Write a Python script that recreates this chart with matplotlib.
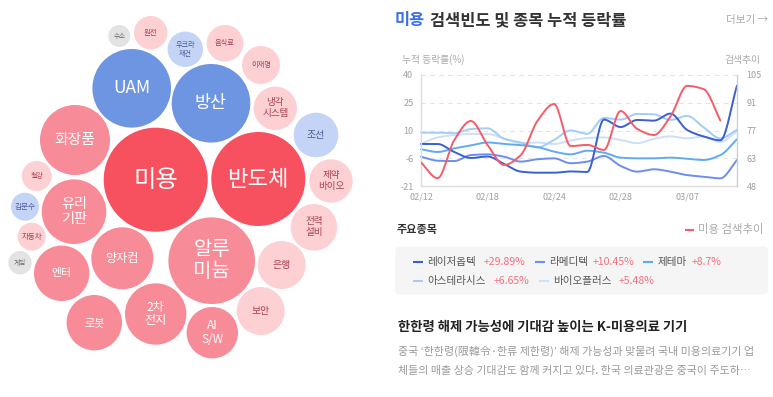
import numpy as np
import matplotlib
matplotlib.use('Agg')
import matplotlib.pyplot as plt
from matplotlib.patches import Circle, FancyBboxPatch

plt.rcParams['font.family'] = ['Noto Sans CJK KR', 'DejaVu Sans']

# ---------------- data ----------------
dates = ['02/12', '02/13', '02/14', '02/17', '02/18', '02/19', '02/20', '02/21',
         '02/24', '02/25', '02/26', '02/27', '02/28', '03/04', '03/05', '03/06',
         '03/07', '03/10', '03/11', '03/12']
tick_idx = [0, 4, 8, 12, 16]
left_tick_labels = ['-21', '-6', '10', '25', '40']
right_tick_labels = ['48', '63', '77', '91', '105']

laser = [2.1, 2.1, -2.3, -5.6, -4.8, -8.9, -13.1, -13.7, -13.7, -13.0, -13.3,
         15.5, 11.4, 15.3, 14.9, 18.8, 9.8, 6.2, 4.1, 34.2]
ramedi = [-4.9, -7.1, -7.3, -4.0, -3.6, -4.9, -7.6, -6.3, -5.8, -8.5, -7.6,
          -4.5, -10.0, -13.1, -11.8, -13.1, -15.0, -15.9, -16.8, -6.7]
jetema = [-0.8, -2.3, -0.3, 1.3, 2.9, 2.1, 1.5, 0.4, -2.1, -3.6, -1.6,
          -2.7, -5.4, -5.8, -5.8, -5.4, -6.0, -6.7, -4.0, 4.7]
asterasys = [8.3, 8.3, 8.0, 10.3, 10.7, 4.9, 2.9, 0.2, 4.3, 9.5, 7.7,
             16.4, 15.5, 18.6, 18.4, 15.3, 17.5, 11.2, 5.2, 9.9]
bioplus = [2.2, 5.7, 7.0, 7.6, 7.6, 5.1, 2.6, 2.9, 2.1, 4.0, 5.4,
           5.7, 4.3, 2.5, 4.9, 6.3, 5.2, 6.2, 3.2, 9.1]
search_trend = [60.1, 52.0, 71.6, 81.4, 69.1, 58.8, 63.9, 81.4, 90.1, 68.5,
                69.1, 66.5, 86.5, 77.3, 74.2, 83.7, 99.4, 97.7, 81.6]

stock_names = ['레이저옵텍', '라메디텍', '제테마', '아스테라시스', '바이오플러스']
stock_returns = ['+29.89%', '+10.45%', '+8.7%', '+6.65%', '+5.48%']

bubble_labels = ['미용', '반도체', 'UAM', '방산', '알루\n미늄', '화장품', '유리\n기판',
                 '양자컴', '2차\n전지', '엔터', '로봇', 'AI\nS/W', '은행', '보안',
                 '전력\n설비', '조선', '냉각\n시스템', '제약\n바이오', '이재명', '음식료',
                 '우크라\n재건', '원전', '철강', '김문수', '자동차', '게임', '수소']
bubble_sizes = [52, 47, 39.3, 39.3, 43.3, 35, 32.3, 31, 30.7, 27.7, 27.7, 25.7,
                24, 24, 23.3, 22.3, 21.7, 21.7, 19, 18.3, 17.7, 16.7, 15, 14, 14,
                11.7, 11]
bubble_groups = ['red', 'red', 'blue', 'blue', 'pink', 'pink', 'pink', 'pink', 'pink',
                 'pink', 'pink', 'pink', 'lpink', 'lpink', 'lpink', 'lblue', 'lpink',
                 'lpink', 'lpink', 'lpink', 'lblue', 'lpink', 'lpink', 'lblue', 'lpink',
                 'gray', 'gray']

# ---------------- layout / style ----------------
bubble_cx = [155.7, 258.3, 131.7, 211, 211.7, 75, 74, 122.3, 155.7, 61.7, 94.3, 212.3,
             281.7, 260.7, 314, 316, 275.3, 331, 261, 225, 185.3, 150.7, 36.7, 25,
             31.7, 20, 119.3]
bubble_cy = [179.7, 179, 88.3, 103.3, 260.7, 140, 211.7, 258.3, 314, 273.3, 322.7,
             332.7, 265, 311, 227.3, 135, 108.3, 181, 65, 43.3, 49.3, 32.7, 176,
             206.7, 236.7, 262.7, 36]
bubble_fs = [17.5, 16, 12.5, 12.5, 14.4, 10.7, 10.2, 8.7, 8.7, 7.8, 8.0, 8.5,
             7.1, 7.1, 6.9, 7.2, 6.9, 6.9, 5.2, 5.2, 5.1, 5.3, 5.0, 5.5, 5.4, 4.8, 4.7]
fill_col = {'red': '#f7515f', 'pink': '#f78b97', 'lpink': '#fdd1d4',
            'blue': '#6d95e2', 'lblue': '#c3d4f7', 'gray': '#e3e3e3'}
text_col = {'red': 'white', 'pink': 'white', 'lpink': '#a8404f',
            'blue': 'white', 'lblue': '#4a5b95', 'gray': '#666666'}

line_cols = ['#3a5fd0', '#6b8ff0', '#5fabf3', '#a3cdf6', '#cde0f7']
red_col = '#f55b69'

W, H = 773, 397
fig = plt.figure(figsize=(W / 100, H / 100), dpi=100)
fig.patch.set_facecolor('white')

bg = fig.add_axes([0, 0, 1, 1])
bg.set_xlim(0, W)
bg.set_ylim(H, 0)
bg.axis('off')

for lab, r, g, cx, cy, fs in zip(bubble_labels, bubble_sizes, bubble_groups,
                                 bubble_cx, bubble_cy, bubble_fs):
    bg.add_patch(Circle((cx, cy), r, fc=fill_col[g], ec='none'))
    ls = 1.08 if fs >= 8 else 1.25
    bg.text(cx, cy, lab, ha='center', va='center', fontsize=fs, color=text_col[g],
            linespacing=ls, multialignment='center')

# title
bg.text(395, 20, '미용', fontsize=11.8, fontweight='bold', color='#3a6fe6',
        ha='left', va='center')
bg.text(429.5, 20, '검색빈도 및 종목 누적 등락률', fontsize=11.8, fontweight='bold',
        color='#333333', ha='left', va='center')
bg.text(768, 20, '더보기 →', fontsize=7.6, color='#aaaaaa', ha='right', va='center')
bg.text(401.5, 60, '누적 등락률(%)', fontsize=7, color='#aaaaaa', ha='left', va='center')
bg.text(760, 60, '검색추이', fontsize=7, color='#aaaaaa', ha='right', va='center')

# legend section
bg.text(396.5, 230, '주요종목', fontsize=8, fontweight='bold', color='#333333',
        ha='left', va='center')
bg.plot([685, 694], [230, 230], color=red_col, lw=1.5, solid_capstyle='butt')
bg.text(698, 230, '미용 검색추이', fontsize=8.2, color='#aaaaaa', ha='left', va='center')
bg.add_patch(FancyBboxPatch((395, 246.5), 373, 48, boxstyle='round,pad=0,rounding_size=5',
                            fc='#f5f5f5', ec='none'))
leg_pos = [(413, 261.7), (535, 261.7), (643, 261.7), (413, 281), (539, 281)]
val_x = [483.3, 592.7, 691.7, 493.3, 618.3]
for (lx, ly), vx, nm, rv, c in zip(leg_pos, val_x, stock_names, stock_returns, line_cols):
    bg.plot([lx, lx + 9.5], [ly, ly], color=c, lw=1.5, solid_capstyle='butt')
    bg.text(lx + 14.5, ly, nm, fontsize=7.6, color='#555555', ha='left', va='center')
    bg.text(vx, ly, rv, fontsize=7.6, color='#f36f7f', ha='left', va='center')

# article
bg.text(398, 327, '한한령 해제 가능성에 기대감 높이는 K-미용의료 기기', fontsize=9.6,
        fontweight='bold', color='#222222', ha='left', va='center')
bg.text(398, 351.5, '중국 ‘한한령(限韓令·한류 제한령)’ 해제 가능성과 맞물려 국내 미용의료기기 업',
        fontsize=7.9, color='#9a9a9a', ha='left', va='center')
bg.text(398, 370.5, '체들의 매출 상승 기대감도 함께 커지고 있다. 한국 의료관광은 중국이 주도하…',
        fontsize=7.9, color='#9a9a9a', ha='left', va='center')


# ---------------- line chart ----------------
def smooth(vals, n=16):
    y = np.asarray(vals, float)
    x = np.arange(len(y), dtype=float)
    d = np.diff(y)
    m = np.zeros_like(y)
    m[0], m[-1] = d[0], d[-1]
    for k in range(1, len(y) - 1):
        if d[k - 1] * d[k] <= 0:
            m[k] = 0.0
        else:
            m[k] = 2.0 / (1.0 / d[k - 1] + 1.0 / d[k])
    xs, ys = [], []
    t = np.linspace(0, 1, n, endpoint=False)
    h00 = 2 * t**3 - 3 * t**2 + 1
    h10 = t**3 - 2 * t**2 + t
    h01 = -2 * t**3 + 3 * t**2
    h11 = t**3 - t**2
    for k in range(len(y) - 1):
        ys.append(h00 * y[k] + h10 * m[k] + h01 * y[k + 1] + h11 * m[k + 1])
        xs.append(x[k] + t)
    xs.append([x[-1]])
    ys.append([y[-1]])
    return np.concatenate(xs), np.concatenate(ys)


ax = fig.add_axes([421 / W, (H - 186) / H, 316 / W, 111 / H])
ax.set_facecolor('none')
ax.set_xlim(0, len(dates) - 1)
ax.set_ylim(-21, 40)
series = [bioplus, asterasys, jetema, ramedi, laser]
cols = [line_cols[4], line_cols[3], line_cols[2], line_cols[1], line_cols[0]]
for s, c in zip(series, cols):
    xs, ys = smooth(s)
    ax.plot(xs, ys, color=c, lw=1.4, solid_capstyle='round', clip_on=False)

ax.set_yticks(np.linspace(-21, 40, 5))
ax.set_yticklabels(left_tick_labels)
ax.set_xticks(tick_idx)
ax.set_xticklabels([dates[i] for i in tick_idx])
ax.tick_params(axis='both', length=0, labelsize=6.5, labelcolor='#a0a0a0')
ax.tick_params(axis='y', pad=5.5)
ax.tick_params(axis='x', pad=4.5)
ax.grid(axis='y', color='#e4e4e4', ls=(0, (4, 4)), lw=0.8)
ax.set_axisbelow(True)
for sp in ['top', 'right']:
    ax.spines[sp].set_visible(False)
for sp in ['left', 'bottom']:
    ax.spines[sp].set_color('#dddddd')
    ax.spines[sp].set_linewidth(1.0)

ax2 = ax.twinx()
ax2.set_ylim(48, 105)
xs, ys = smooth(search_trend)
ax2.plot(xs, ys, color=red_col, lw=1.4, solid_capstyle='round')
ax2.set_yticks(np.linspace(48, 105, 5))
ax2.set_yticklabels(right_tick_labels)
ax2.tick_params(axis='y', length=0, labelsize=6.5, labelcolor='#a0a0a0', pad=7)
for sp in ['top', 'left', 'bottom']:
    ax2.spines[sp].set_visible(False)
ax2.spines['right'].set_color('#d0d0d0')
ax2.spines['right'].set_linewidth(1.0)

fig.savefig('out.png', dpi=100, facecolor='white')
